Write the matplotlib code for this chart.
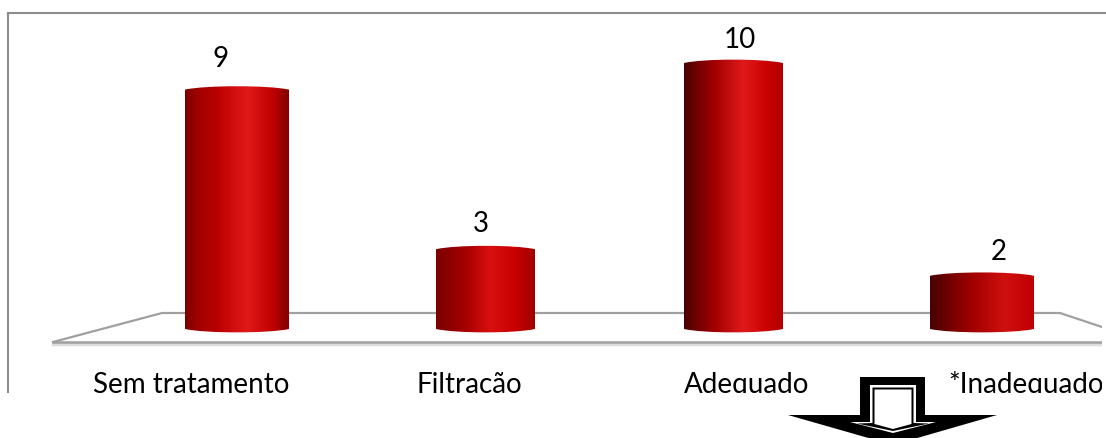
import numpy as np
import matplotlib
matplotlib.use("Agg")
import matplotlib.pyplot as plt
from matplotlib.colors import LinearSegmentedColormap
from matplotlib.patches import PathPatch, Polygon, Rectangle
from matplotlib.path import Path

plt.rcParams['font.family'] = ['Lato', 'DejaVu Sans']

categories = ["Sem tratamento", "Filtração", "Adequado", "*Inadequado"]
values = [9, 3, 10, 2]

# posicoes em pixels da imagem original
bar_centers_px = [237, 485.5, 733.5, 982]
bar_widths_px = [104, 99, 99, 104]
value_label_px = [(221, 59), (481, 224), (740, 40), (999, 252)]
cat_label_px = [191.5, 469, 747, 1026]

# cilindros: (posicao, cor) da esquerda para a direita
shades = [
    [(0, "#7c0000"), (0.12, "#a00000"), (0.3, "#b80000"), (0.52, "#d81212"), (0.6, "#e01818"),
     (0.85, "#c00000"), (0.95, "#940000"), (1, "#800000")],
    [(0, "#7a0000"), (0.3, "#a60000"), (0.55, "#d81010"), (0.8, "#c80000"), (1, "#a00000")],
    [(0, "#4a0000"), (0.3, "#a00000"), (0.6, "#e01a1a"), (0.85, "#c80000"), (1, "#b00000")],
    [(0, "#480000"), (0.4, "#a00000"), (0.72, "#d01010"), (1, "#c00000")],
]

W, H = 1106, 439
base_px = 330
px_per_unit = 26.6

fig = plt.figure(figsize=(W / 100, H / 100), dpi=100)

# eixo dos dados, ocupa a figura toda
ax = fig.add_axes([0, 0, 1, 1])
ax.axis("off")

# eixo em pixels para moldura, chao e seta
deco = fig.add_axes([0, 0, 1, 1], zorder=-1)
deco.set_xlim(0, W)
deco.set_ylim(H, 0)
deco.axis("off")

gray = "#8c8c8c"
deco.plot([8, 8], [393, 14], color=gray, lw=1.5)
deco.plot([53, 162, 1060, 1102], [343, 314, 314, 328], color="#a0a0a0", lw=1.6)
deco.plot([53, 1102], [345, 345], color="#dcdcdc", lw=2.5)
deco.plot([53, 1102], [343, 343], color="#a0a0a0", lw=1.8)

bump = 4.5 / px_per_unit  # controle da curva, em unidades de dados
for i, v in enumerate(values):
    xc = bar_centers_px[i]
    w = bar_widths_px[i]
    x0, x1 = xc - w / 2, xc + w / 2
    cmap = LinearSegmentedColormap.from_list("bar%d" % i, shades[i])
    grad = np.linspace(0, 1, 256).reshape(1, -1)
    im = ax.imshow(grad, cmap=cmap, extent=[x0, x1, -1, v + 1], aspect="auto", zorder=3)
    verts = [(x0, 0), (x0 + 0.2 * w, -bump), (x1 - 0.2 * w, -bump), (x1, 0),
             (x1, v), (x1 - 0.2 * w, v + bump), (x0 + 0.2 * w, v + bump), (x0, v), (x0, 0)]
    codes = [Path.MOVETO, Path.CURVE4, Path.CURVE4, Path.CURVE4,
             Path.LINETO, Path.CURVE4, Path.CURVE4, Path.CURVE4, Path.CLOSEPOLY]
    clip = PathPatch(Path(verts, codes), transform=ax.transData, fc="none", ec="none")
    ax.add_patch(clip)
    im.set_clip_path(clip)

ax.set_xlim(0, W)
ax.set_ylim((base_px - H) / px_per_unit, base_px / px_per_unit)

for v, (x, y) in zip(values, value_label_px):
    deco.text(x, y, str(v), ha="center", va="center", fontsize=20, color="black")
for name, x in zip(categories, cat_label_px):
    deco.text(x, 393, name, ha="center", va="baseline", fontsize=20, color="black")

# a imagem original esta cortada embaixo e a direita
top = fig.add_axes([0, 0, 1, 1], zorder=5)
top.axis("off")
top.add_patch(Rectangle((0, 394), W, H - 394, fc="white", ec="none"))
top.add_patch(Rectangle((1102, 0), 4, H, fc="white", ec="none"))
top.plot([8, W], [14, 14], color=gray, lw=1.5)

# seta
top.add_patch(Polygon([(860, 378), (925, 378), (925, 416), (997, 416), (893, 446), (788, 416), (860, 416)],
                      fc="black", ec="none"))
top.add_patch(Polygon([(870, 386), (916, 386), (916, 423), (936, 423), (893, 434), (850, 423), (870, 423)],
                      fc="white", ec="none"))
top.add_patch(Polygon([(872.5, 388.5), (913.5, 388.5), (913.5, 424), (929, 424.5), (893, 432), (857, 424.5), (872.5, 424)],
                      fc="black", ec="none"))
top.add_patch(Polygon([(874.5, 390.5), (911.5, 390.5), (911.5, 425), (893, 430), (874.5, 425)],
                      fc="white", ec="none"))
top.set_xlim(0, W)
top.set_ylim(H, 0)

fig.savefig("out.png", dpi=100, facecolor="white")
